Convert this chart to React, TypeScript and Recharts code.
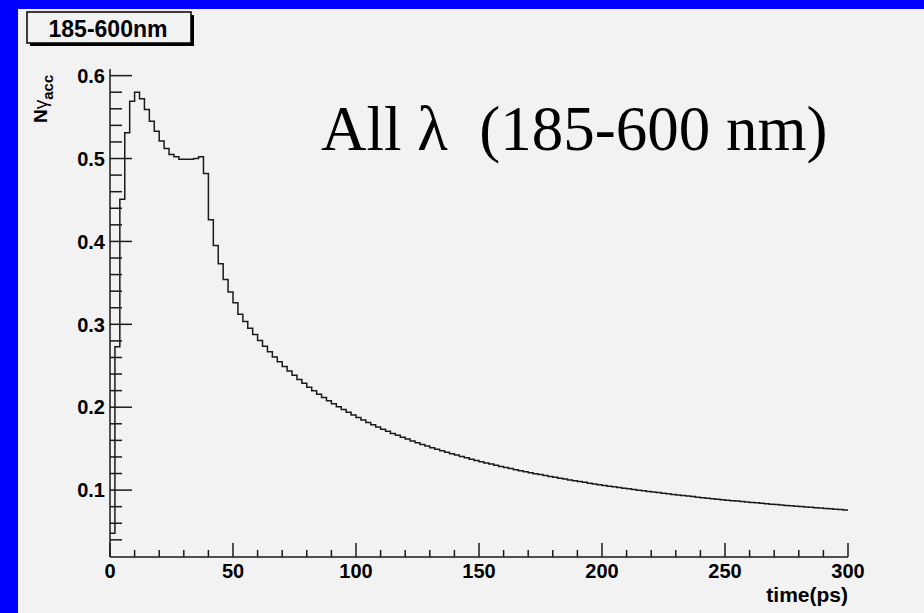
import { ComposedChart, Line, XAxis, YAxis } from 'recharts'

// ROOT-style histogram: accepted photons vs time, 2 ps bins from 0 to 300 ps
const BIN_WIDTH = 2
const X_END = 300

const N_ACC = [
  0.048, 0.273, 0.451, 0.531, 0.569, 0.580, 0.572, 0.559, 0.545, 0.533,
  0.521, 0.512, 0.505, 0.502, 0.499, 0.499, 0.499, 0.500, 0.502, 0.482,
  0.426, 0.395, 0.373, 0.354, 0.339, 0.326, 0.3121, 0.3035, 0.2953, 0.2877,
  0.2804, 0.2735, 0.2669, 0.2607, 0.2547, 0.2490, 0.2436, 0.2385, 0.2335, 0.2288,
  0.2242, 0.2199, 0.2157, 0.2117, 0.2078, 0.2041, 0.2005, 0.1971, 0.1938, 0.1905,
  0.1875, 0.1845, 0.1816, 0.1788, 0.1761, 0.1734, 0.1709, 0.1684, 0.1661, 0.1637,
  0.1615, 0.1593, 0.1572, 0.1551, 0.1531, 0.1512, 0.1493, 0.1474, 0.1456, 0.1439,
  0.1422, 0.1405, 0.1389, 0.1373, 0.1358, 0.1343, 0.1328, 0.1314, 0.1300, 0.1286,
  0.1273, 0.1260, 0.1247, 0.1234, 0.1222, 0.1210, 0.1198, 0.1187, 0.1176, 0.1165,
  0.1154, 0.1143, 0.1133, 0.1123, 0.1113, 0.1103, 0.1094, 0.1084, 0.1075, 0.1066,
  0.1057, 0.1048, 0.1040, 0.1032, 0.1023, 0.1015, 0.1007, 0.0999, 0.0992, 0.0984,
  0.0977, 0.0970, 0.0962, 0.0955, 0.0948, 0.0942, 0.0935, 0.0928, 0.0922, 0.0915,
  0.0909, 0.0903, 0.0897, 0.0891, 0.0885, 0.0879, 0.0873, 0.0868, 0.0862, 0.0856,
  0.0851, 0.0846, 0.0840, 0.0835, 0.0830, 0.0825, 0.0820, 0.0815, 0.0810, 0.0806,
  0.0801, 0.0796, 0.0792, 0.0787, 0.0783, 0.0778, 0.0774, 0.0770, 0.0765, 0.0761,
]

const X_TICKS = [
  0, 10, 20, 30, 40, 50, 60, 70, 80, 90, 100, 110, 120, 130, 140, 150,
  160, 170, 180, 190, 200, 210, 220, 230, 240, 250, 260, 270, 280, 290, 300,
]
const Y_TICKS = [
  0.04, 0.06, 0.08, 0.1, 0.12, 0.14, 0.16, 0.18, 0.2, 0.22, 0.24, 0.26, 0.28,
  0.3, 0.32, 0.34, 0.36, 0.38, 0.4, 0.42, 0.44, 0.46, 0.48, 0.5, 0.52, 0.54,
  0.56, 0.58, 0.6,
]
const Y_DOMAIN = [0.0193, 0.608]

const HIST_LABEL = '185-600nm'
const X_TITLE = 'time(ps)'

const INK = '#1a1a1a'
const CANVAS = '#f2f2f2'
const SANS = '"Liberation Sans", Arial, Helvetica, sans-serif'
const SERIF = '"Liberation Serif", "Times New Roman", serif'

const data = N_ACC.map((v, i) => ({ t: i * BIN_WIDTH, v }))
  .concat([{ t: X_END, v: N_ACC[N_ACC.length - 1] }])

const XTick = (props: any) => {
  const { x, y, payload } = props
  const major = payload.value % 50 === 0
  return (
    <g>
      <line x1={x} x2={x} y1={y} y2={y - (major ? 14 : 7)} stroke={INK} strokeWidth={1.5} />
      {major && (
        <text x={x} y={y + 21} textAnchor="middle" fontFamily={SANS} fontWeight="bold"
          fontSize={20} fill="#000">{payload.value}</text>
      )}
    </g>
  )
}

const YTick = (props: any) => {
  const { x, y, payload } = props
  const v = payload.value
  const major = Math.abs(v * 10 - Math.round(v * 10)) < 1e-6
  return (
    <g>
      <line x1={x} x2={x + (major ? 22 : 12)} y1={y} y2={y} stroke={INK} strokeWidth={1.5} />
      {major && (
        <text x={x - 5} y={y} dy="0.36em" textAnchor="end" fontFamily={SANS} fontWeight="bold"
          fontSize={20} fill="#000">{v.toFixed(1)}</text>
      )}
    </g>
  )
}

export default function App() {
  return (
    <div style={{ position: 'fixed', left: 0, top: 0, width: 924, height: 613, background: '#0000ff', overflow: 'hidden' }}>
      <div style={{ position: 'absolute', left: 18, top: 9, width: 906, height: 604, background: CANVAS }} />
      <div style={{ position: 'absolute', left: 0, top: 0 }}>
        <ComposedChart width={924} height={613} data={data}
          margin={{ top: 69, right: 76, bottom: 26, left: 70 }}>
          <XAxis dataKey="t" type="number" domain={[0, X_END]} ticks={X_TICKS} interval={0}
            allowDataOverflow tickSize={0} tickMargin={0} height={30} tick={XTick}
            axisLine={{ stroke: INK, strokeWidth: 1.5 }} tickLine={false} />
          <XAxis xAxisId="top" orientation="top" dataKey="t" type="number" domain={[0, X_END]}
            height={0} tick={false} tickLine={false} axisLine={{ stroke: INK, strokeWidth: 1.5 }} />
          <YAxis type="number" domain={Y_DOMAIN} ticks={Y_TICKS} interval={0} allowDataOverflow
            tickSize={0} tickMargin={0} width={40} tick={YTick}
            axisLine={{ stroke: INK, strokeWidth: 1.5 }} tickLine={false} />
          <YAxis yAxisId="right" orientation="right" type="number" domain={[0, 1]} width={0}
            tick={false} tickLine={false} axisLine={{ stroke: INK, strokeWidth: 1.5 }} />
          <Line dataKey="v" type="stepAfter" stroke={INK} strokeWidth={1.5} dot={false}
            activeDot={false} isAnimationActive={false} />
        </ComposedChart>
      </div>
      <svg width={924} height={613} style={{ position: 'absolute', left: 0, top: 0, pointerEvents: 'none' }}>
        {/* histogram title box with ROOT-style shadow */}
        <rect x={30} y={15} width={164} height={31} fill="#000" />
        <rect x={27} y={12} width={164} height={31} fill={CANVAS} stroke="#000" strokeWidth={1.5} />
        <text x={108} y={37} textAnchor="middle" fontFamily={SANS} fontWeight="bold" fontSize={23}
          fill="#000">{HIST_LABEL}</text>
        {/* y title: N gamma_acc */}
        <text transform="translate(47,123) rotate(-90)" fontFamily={SANS} fontWeight="bold" fontSize={19} fill="#000">
          <tspan>N</tspan>
          <tspan fontWeight="normal">γ</tspan>
          <tspan fontSize={15} dy={6}>acc</tspan>
        </text>
        <text x={848} y={602} textAnchor="end" fontFamily={SANS} fontWeight="bold" fontSize={21}
          fill="#000">{X_TITLE}</text>
        <text x={321} y={150} fontFamily={SERIF} fontSize={63} fill="#000" style={{ whiteSpace: 'pre' }}>
          {'All λ  (185-600 nm)'}
        </text>
      </svg>
    </div>
  )
}
